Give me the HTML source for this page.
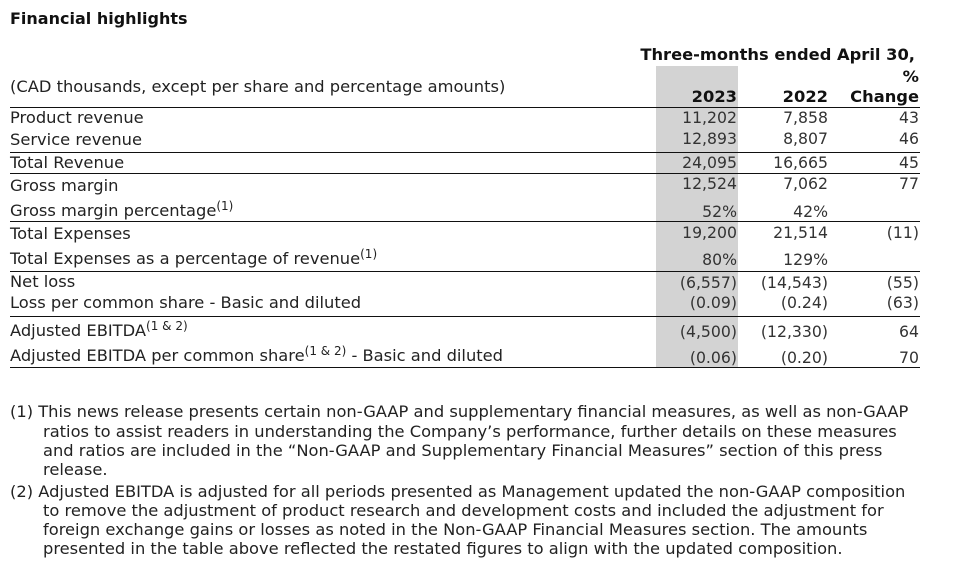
<!DOCTYPE html>
<html><head><meta charset="utf-8"><style>
body{margin:0;width:955px;height:563px;background:#fff;position:relative;overflow:hidden;font-family:"DejaVu Sans","Liberation Sans",sans-serif;font-size:16.3px;color:#222}
.t{position:absolute;white-space:nowrap;line-height:18px}
.r{text-align:right}
.b{font-weight:bold;color:#111}
.ln{position:absolute;left:10px;width:910px;height:1px;background:#111}
sup{font-size:12px;vertical-align:6px;line-height:0}
.n{color:#333;font-size:15.7px}
</style></head><body>
<div style="position:absolute;left:656px;top:66px;width:82px;height:301px;background:#d3d3d3"></div>
<div class="t b" style="left:10px;top:10px;font-size:16px">Financial highlights</div>
<div class="t b r" style="right:40px;top:46px">Three-months ended April 30,</div>
<div class="t b r" style="right:36px;top:68px">%</div>
<div class="t" style="left:10px;top:78px">(CAD thousands, except per share and percentage amounts)</div>
<div class="t b r" style="right:218px;top:88px">2023</div>
<div class="t b r" style="right:127px;top:88px">2022</div>
<div class="t b r" style="right:36px;top:88px">Change</div>

<div class="ln" style="top:107px"></div>
<div class="ln" style="top:152px"></div>
<div class="ln" style="top:173px"></div>
<div class="ln" style="top:221px"></div>
<div class="ln" style="top:271px"></div>
<div class="ln" style="top:316px"></div>
<div class="ln" style="top:367px"></div>

<div class="t" style="left:10px;top:109px">Product revenue</div>
<div class="t" style="left:10px;top:131px">Service revenue</div>
<div class="t" style="left:10px;top:154px">Total Revenue</div>
<div class="t" style="left:10px;top:177px">Gross margin</div>
<div class="t" style="left:10px;top:202px">Gross margin percentage<sup>(1)</sup></div>
<div class="t" style="left:10px;top:225px">Total Expenses</div>
<div class="t" style="left:10px;top:250px">Total Expenses as a percentage of revenue<sup>(1)</sup></div>
<div class="t" style="left:10px;top:273px">Net loss</div>
<div class="t" style="left:10px;top:294px">Loss per common share - Basic and diluted</div>
<div class="t" style="left:10px;top:322px">Adjusted EBITDA<sup>(1 &amp; 2)</sup></div>
<div class="t" style="left:10px;top:347px">Adjusted EBITDA per common share<sup>(1 &amp; 2)</sup> - Basic and diluted</div>

<div class="t r n" style="right:218px;top:109px">11,202</div><div class="t r n" style="right:127px;top:109px">7,858</div><div class="t r n" style="right:36px;top:109px">43</div>
<div class="t r n" style="right:218px;top:130px">12,893</div><div class="t r n" style="right:127px;top:130px">8,807</div><div class="t r n" style="right:36px;top:130px">46</div>
<div class="t r n" style="right:218px;top:154px">24,095</div><div class="t r n" style="right:127px;top:154px">16,665</div><div class="t r n" style="right:36px;top:154px">45</div>
<div class="t r n" style="right:218px;top:175px">12,524</div><div class="t r n" style="right:127px;top:175px">7,062</div><div class="t r n" style="right:36px;top:175px">77</div>
<div class="t r n" style="right:218px;top:203px">52%</div><div class="t r n" style="right:127px;top:203px">42%</div>
<div class="t r n" style="right:218px;top:224px">19,200</div><div class="t r n" style="right:127px;top:224px">21,514</div><div class="t r n" style="right:36px;top:224px">(11)</div>
<div class="t r n" style="right:218px;top:251px">80%</div><div class="t r n" style="right:127px;top:251px">129%</div>
<div class="t r n" style="right:218px;top:274px">(6,557)</div><div class="t r n" style="right:127px;top:274px">(14,543)</div><div class="t r n" style="right:36px;top:274px">(55)</div>
<div class="t r n" style="right:218px;top:294px">(0.09)</div><div class="t r n" style="right:127px;top:294px">(0.24)</div><div class="t r n" style="right:36px;top:294px">(63)</div>
<div class="t r n" style="right:218px;top:323px">(4,500)</div><div class="t r n" style="right:127px;top:323px">(12,330)</div><div class="t r n" style="right:36px;top:323px">64</div>
<div class="t r n" style="right:218px;top:349px">(0.06)</div><div class="t r n" style="right:127px;top:349px">(0.20)</div><div class="t r n" style="right:36px;top:349px">70</div>

<div class="t" style="left:10px;top:403px">(1) This news release presents certain non-GAAP and supplementary financial measures, as well as non-GAAP</div>
<div class="t" style="left:43px;top:423px">ratios to assist readers in understanding the Company’s performance, further details on these measures</div>
<div class="t" style="left:43px;top:442px">and ratios are included in the “Non-GAAP and Supplementary Financial Measures” section of this press</div>
<div class="t" style="left:43px;top:461px">release.</div>
<div class="t" style="left:10px;top:483px">(2) Adjusted EBITDA is adjusted for all periods presented as Management updated the non-GAAP composition</div>
<div class="t" style="left:43px;top:502px">to remove the adjustment of product research and development costs and included the adjustment for</div>
<div class="t" style="left:43px;top:521px">foreign exchange gains or losses as noted in the Non-GAAP Financial Measures section. The amounts</div>
<div class="t" style="left:43px;top:540px">presented in the table above reflected the restated figures to align with the updated composition.</div>
</body></html>
